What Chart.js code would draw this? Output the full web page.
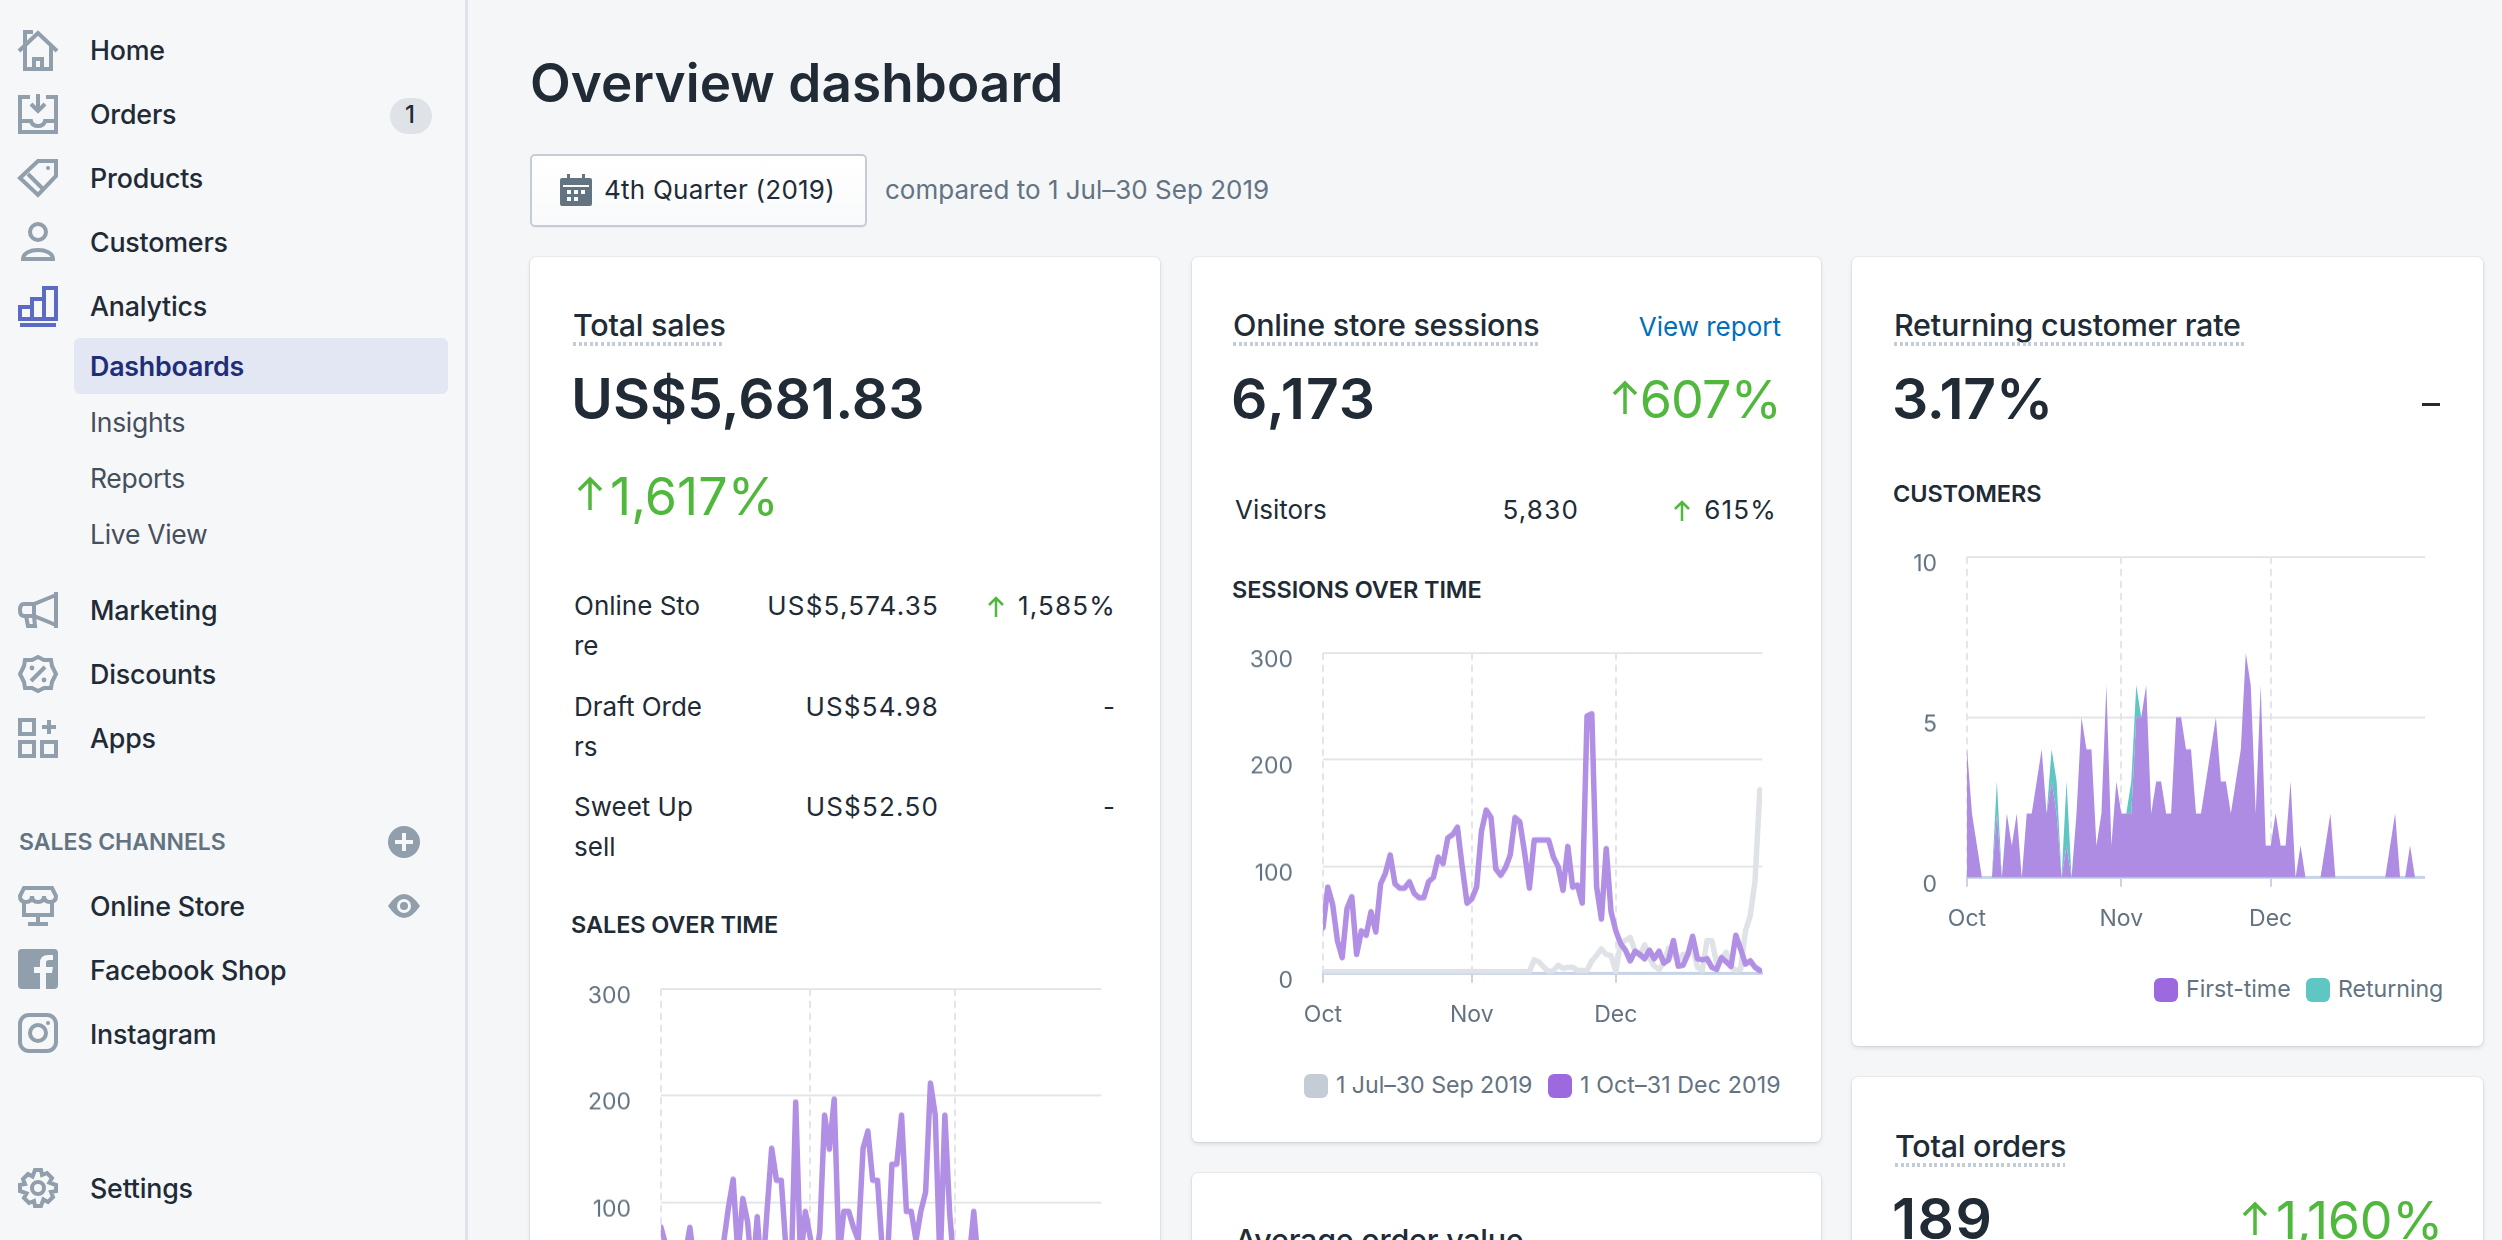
<!DOCTYPE html>
<html>
<head>
<meta charset="utf-8">
<title>Overview dashboard</title>
<script src="https://cdn.jsdelivr.net/npm/chart.js@4"></script>
<style>
html, body { margin: 0; padding: 0; width: 2502px; height: 1240px; overflow: hidden; background: #f4f6f8; }
body { position: relative; font-family: Inter, "Noto Sans", sans-serif; color: #212b36; }
.t { position: absolute; white-space: nowrap; line-height: 1; transform: translateY(-50%); }
.nav { left: 90px; font-size: 26.8px; font-weight: 500; letter-spacing: -0.2px; }
.sub { left: 90px; font-size: 26.5px; color: #454f5b; letter-spacing: -0.3px; }
.card { position: absolute; background: #fff; border-radius: 6px; box-shadow: 0 0 0 1px rgba(63,63,68,.05), 0 2px 4px rgba(63,63,68,.15); }
.title { font-size: 30.5px; font-weight: 500; letter-spacing: -0.25px; }
.dots { position: absolute; height: 4px; background: repeating-linear-gradient(90deg, #c4cdd5 0 3px, transparent 3px 5.6px); }
.big { font-size: 57px; font-weight: 600; }
.up { font-size: 52px; color: #50b83c; }
.cell { font-size: 26px; }
.num { letter-spacing: 1.2px; }
.head { font-size: 23.5px; font-weight: 600; letter-spacing: -0.1px; }
.leg { font-size: 23.2px; color: #637381; letter-spacing: -0.05px; }
.sw { position: absolute; width: 24px; height: 24px; border-radius: 6px; }
svg { position: absolute; overflow: visible; }
svg.ic { left: 18px; width: 40px; height: 40px; fill: none; stroke: #919eab; stroke-width: 2; }
canvas { position: absolute; }
</style>
</head>
<body>

<!-- sidebar -->
<div style="position:absolute;left:0;top:0;width:465px;height:1240px;background:#f6f7f9;border-right:3px solid #dfe3e8"></div>
<div style="position:absolute;left:74px;top:338px;width:374px;height:56px;border-radius:6px;background:#e3e6f3"></div>
<div style="position:absolute;left:390px;top:98px;width:42px;height:36px;border-radius:18px;background:#dfe3e8"></div>

<svg class="ic" style="top:30px" viewBox="0 0 20 20"><path d="M0.5 10.5L10 1.5 19.5 10.5M3.5 8V19.5H16.5V8M8 19.5V14.5H12V19.5M3.5 7V1H7.5"/></svg>
<svg class="ic" style="top:94px" viewBox="0 0 20 20"><path d="M6 1.5H1V19H19V1.5H14M10 0V8M6.5 5L10 8.5 13.5 5M1 13.5H6.5Q7 16 10 16 13 16 13.5 13.5H19"/></svg>
<svg class="ic" style="top:158px" viewBox="0 0 20 20"><path d="M1 10L10 1.5H19V9L10 18.5ZM5 8L12 15"/><circle cx="15" cy="5" r="1" fill="#919eab" stroke="none"/></svg>
<svg class="ic" style="top:222px" viewBox="0 0 20 20"><circle cx="10" cy="5" r="4"/><path d="M2.5 18.5C2.5 12.5 17.5 12.5 17.5 18.5Z"/></svg>
<svg class="ic" style="top:286px;stroke:#5c6ac4" viewBox="0 0 20 20"><path d="M1 19.5H19M1 16.5V10.5H7V16.5ZM7 16.5V6.5H13V16.5ZM13 16.5V1H19V16.5ZM1 16.5H19"/></svg>
<svg class="ic" style="top:590px" viewBox="0 0 20 20"><path d="M19 1V19M19 2.5L8 7H3Q1 7 1 10 1 13 3 13H8L19 17.5M8 7V13M4 13L5 18H8.5L8 13"/></svg>
<svg class="ic" style="top:654px" viewBox="0 0 20 20"><path d="M10 1.5L13 3H16.5L17 6 19 10 17 14 16.5 17H13L10 18.5 7 17H3.5L3 14 1 10 3 6 3.5 3H7ZM6.5 13.5L13.5 6.5"/><circle cx="7" cy="7" r="1.2" fill="#919eab" stroke="none"/><circle cx="13" cy="13" r="1.2" fill="#919eab" stroke="none"/></svg>
<svg class="ic" style="top:718px" viewBox="0 0 20 20"><path d="M1 1H8V8H1ZM1 12H8V19H1ZM12 12H19V19H12ZM15.5 1V8M12 4.5H19"/></svg>
<svg class="ic" style="top:886px" viewBox="0 0 20 20"><path d="M3 1H17L19 5Q19 8 16 8 13 8 13 5 13 8 10 8 7 8 7 5 7 8 4 8 1 8 1 5ZM3 8V14.5H17V8M10 14.5V18M5 19H15"/></svg>
<svg class="ic" style="top:949px;stroke:none;fill:#919eab" viewBox="0 0 20 20"><path d="M2 0H18Q20 0 20 2V18Q20 20 18 20H14V12H17L17.5 9H14V7Q14 5.5 15.5 5.5H17.5V3H15Q11 3 11 7V9H8V12H11V20H2Q0 20 0 18V2Q0 0 2 0Z"/></svg>
<svg class="ic" style="top:1013px" viewBox="0 0 20 20"><rect x="1" y="1" width="18" height="18" rx="4.5"/><circle cx="10" cy="10" r="4"/><circle cx="15" cy="5" r="1" fill="#919eab" stroke="none"/></svg>
<svg class="ic" style="top:1168px" viewBox="0 0 20 20"><path d="M8.5 1H11.5L12 3.5 14.5 2.5 17 5 15.7 7.3 19 8.5V11.5L16.5 12 17.5 14.5 15 17 12.7 15.7 11.5 19H8.5L8 16.5 5.5 17.5 3 15 4.3 12.7 1 11.5V8.5L3.5 8 2.5 5.5 5 3 7.3 4.3Z"/><circle cx="10" cy="10" r="3"/></svg>
<svg style="left:388px;top:826px;width:32px;height:32px" viewBox="0 0 32 32"><circle cx="16" cy="16" r="16" fill="#919eab"/><path d="M16 7V25M7 16H25" stroke="#f6f7f9" stroke-width="4"/></svg>
<svg style="left:388px;top:894px;width:32px;height:24px" viewBox="0 0 32 24"><path d="M0 12Q16 -12 32 12 16 36 0 12Z" fill="#919eab"/><circle cx="16" cy="12" r="7" fill="#f6f7f9"/><circle cx="16" cy="12" r="4" fill="#919eab"/></svg>

<div class="t nav" style="top:50px">Home</div>
<div class="t nav" style="top:114px">Orders</div>
<div class="t" style="left:405px;top:115px;font-size:24px;font-weight:500">1</div>
<div class="t nav" style="top:178px">Products</div>
<div class="t nav" style="top:242px">Customers</div>
<div class="t nav" style="top:306px">Analytics</div>
<div class="t nav" style="top:366px;color:#202e78;font-weight:600">Dashboards</div>
<div class="t sub" style="top:422px">Insights</div>
<div class="t sub" style="top:478px">Reports</div>
<div class="t sub" style="top:534px">Live View</div>
<div class="t nav" style="top:610px">Marketing</div>
<div class="t nav" style="top:674px">Discounts</div>
<div class="t nav" style="top:738px">Apps</div>
<div class="t" style="left:19px;top:842px;font-size:23px;font-weight:600;color:#637381">SALES CHANNELS</div>
<div class="t nav" style="top:906px">Online Store</div>
<div class="t nav" style="top:970px">Facebook Shop</div>
<div class="t nav" style="top:1034px">Instagram</div>
<div class="t nav" style="top:1188px">Settings</div>

<!-- header -->
<div class="t" style="left:530px;top:83px;font-size:53px;font-weight:600;letter-spacing:0.1px">Overview dashboard</div>
<div style="position:absolute;left:530px;top:154px;width:333px;height:69px;border:2px solid #c4cdd5;border-radius:5px;background:linear-gradient(#fff,#f9fafb);box-shadow:0 1px 0 rgba(22,29,37,.05)"></div>
<svg style="left:560px;top:174px;width:32px;height:32px" viewBox="0 0 32 32"><path d="M2 4H7V0H10V4H22V0H25V4H30Q32 4 32 6V30Q32 32 30 32H2Q0 32 0 30V6Q0 4 2 4ZM3 11V13H29V11ZM7 16V20H11V16ZM14 16V20H18V16ZM21 16V20H25V16ZM7 23V27H11V23ZM14 23V27H18V23Z" fill="#637381" fill-rule="evenodd"/></svg>
<div class="t" style="left:604px;top:190px;font-size:26px;letter-spacing:0.25px">4th Quarter (2019)</div>
<div class="t" style="left:885px;top:190px;font-size:26px;color:#637381">compared to 1 Jul–30 Sep 2019</div>

<!-- cards -->
<div class="card" style="left:530px;top:257px;width:630px;height:1100px"></div>
<div class="card" style="left:1192px;top:257px;width:629px;height:885px"></div>
<div class="card" style="left:1192px;top:1173px;width:629px;height:300px"></div>
<div class="card" style="left:1852px;top:257px;width:631px;height:789px"></div>
<div class="card" style="left:1852px;top:1077px;width:631px;height:300px"></div>

<!-- total sales -->
<div class="t title" style="left:573px;top:325px">Total sales</div>
<div class="dots" style="left:573px;top:342px;width:151px"></div>
<div class="t big" style="left:571px;top:398px">US$5,681.83</div>
<svg style="left:577px;top:477px;width:26px;height:33px" viewBox="0 0 26 33"><path d="M13 33V2M2 13L13 2 24 13" fill="none" stroke="#50b83c" stroke-width="3.5"/></svg>
<div class="t up" style="left:610px;top:497px">1,617%</div>
<div class="t cell" style="left:574px;top:606px">Online Sto</div>
<div class="t cell" style="left:574px;top:646px">re</div>
<div class="t cell num" style="right:1563px;top:606px">US$5,574.35</div>
<svg style="left:988px;top:596px;width:16px;height:21px" viewBox="0 0 16 21"><path d="M8 21V2M1 9L8 2 15 9" fill="none" stroke="#50b83c" stroke-width="2.5"/></svg>
<div class="t cell num" style="right:1386px;top:606px">1,585%</div>
<div class="t cell" style="left:574px;top:707px">Draft Orde</div>
<div class="t cell" style="left:574px;top:747px">rs</div>
<div class="t cell num" style="right:1563px;top:707px">US$54.98</div>
<div class="t cell" style="right:1387px;top:707px">-</div>
<div class="t cell" style="left:574px;top:807px">Sweet Up</div>
<div class="t cell" style="left:574px;top:847px">sell</div>
<div class="t cell num" style="right:1563px;top:807px">US$52.50</div>
<div class="t cell" style="right:1387px;top:807px">-</div>
<div class="t head" style="left:571px;top:925px">SALES OVER TIME</div>
<canvas id="salesChart" width="600" height="460"></canvas>

<!-- online store sessions -->
<div class="t title" style="left:1233px;top:325px">Online store sessions</div>
<div class="dots" style="left:1233px;top:342px;width:305px"></div>
<div class="t" style="right:721px;top:327px;font-size:26px;color:#006fbb">View report</div>
<div class="t big" style="left:1231px;top:398px;letter-spacing:1px">6,173</div>
<svg style="left:1612px;top:381px;width:26px;height:33px" viewBox="0 0 26 33"><path d="M13 33V2M2 13L13 2 24 13" fill="none" stroke="#50b83c" stroke-width="3.5"/></svg>
<div class="t up" style="right:721px;top:400px;letter-spacing:-0.8px">607%</div>
<div class="t cell" style="left:1235px;top:510px">Visitors</div>
<div class="t cell num" style="right:923px;top:510px">5,830</div>
<svg style="left:1674px;top:500px;width:16px;height:21px" viewBox="0 0 16 21"><path d="M8 21V2M1 9L8 2 15 9" fill="none" stroke="#50b83c" stroke-width="2.5"/></svg>
<div class="t cell num" style="right:725px;top:510px">615%</div>
<div class="t head" style="left:1232px;top:590px">SESSIONS OVER TIME</div>
<canvas id="sessionsChart" width="600" height="460"></canvas>
<div class="sw" style="left:1304px;top:1074px;background:#c4cdd5"></div>
<div class="t leg" style="left:1336px;top:1086px">1 Jul–30 Sep 2019</div>
<div class="sw" style="left:1548px;top:1074px;background:#9c6ade"></div>
<div class="t leg" style="left:1580px;top:1086px;letter-spacing:0.1px">1 Oct–31 Dec 2019</div>

<!-- returning customer rate -->
<div class="t title" style="left:1894px;top:325px">Returning customer rate</div>
<div class="dots" style="left:1894px;top:342px;width:350px"></div>
<div class="t big" style="left:1892px;top:398px;letter-spacing:-0.3px">3.17%</div>
<div style="position:absolute;left:2422px;top:403px;width:18px;height:3px;background:#212b36"></div>
<div class="t head" style="left:1893px;top:494px">CUSTOMERS</div>
<canvas id="customersChart" width="600" height="460"></canvas>
<div class="sw" style="left:2154px;top:978px;background:#9c6ade"></div>
<div class="t leg" style="left:2186px;top:990px">First-time</div>
<div class="sw" style="left:2306px;top:978px;background:#5ec6c3"></div>
<div class="t leg" style="left:2338px;top:990px">Returning</div>

<!-- bottom cards, cut off by the window -->
<div class="t title" style="left:1235px;top:1240px">Average order value</div>
<div class="t title" style="left:1895px;top:1146px">Total orders</div>
<div class="dots" style="left:1895px;top:1163px;width:170px"></div>
<div class="t big" style="left:1892px;top:1218px;letter-spacing:1.5px">189</div>
<svg style="left:2242px;top:1202px;width:26px;height:33px" viewBox="0 0 26 33"><path d="M13 33V2M2 13L13 2 24 13" fill="none" stroke="#50b83c" stroke-width="3.5"/></svg>
<div class="t up" style="right:59px;top:1221px;letter-spacing:-0.3px">1,160%</div>

<script>
const monthNames = ['Oct', 'Nov', 'Dec'];
const monthTicks = [0, 31, 61];

const salesTicks = [0, 100, 200, 300];
const sessionTicks = [0, 100, 200, 300];
const customerTicks = [0, 5, 10];

// bottom of this one is below the fold, low values are a guess
const salesThisQuarter = [77, 60, 45, 30, 20, 50, 77, 40, 25, 45, 30, 20, 35, 62, 95, 122, 50, 104, 82, 30, 87, 25, 90, 151, 121, 121, 55, 25, 194, 45, 92, 68, 40, 73, 182, 150, 197, 50, 92, 92, 77, 65, 151, 167, 121, 121, 55, 40, 136, 136, 182, 92, 92, 65, 92, 110, 212, 182, 40, 182, 90, 35, 30, 25, 45, 92, 40, 20, 15, 25, 10, 15, 30, 45, 15, 10, 25, 40, 15, 10, 20, 10, 5, 15, 30, 45, 20, 10, 15, 10, 5, 5];

const sessionsLastQuarter = [2, 2, 2, 2, 2, 2, 2, 2, 2, 2, 2, 2, 2, 2, 2, 2, 2, 2, 2, 2, 2, 2, 2, 2, 2, 2, 2, 2, 2, 2, 2, 2, 2, 2, 2, 2, 2, 2, 2, 2, 2, 2, 2, 2, 13, 11, 6, 2, 3, 8, 5, 6, 6, 3, 3, 3, 12, 17, 23, 18, 17, 2, 29, 31, 34, 21, 17, 27, 15, 7, 4, 10, 24, 18, 12, 18, 18, 25, 6, 3, 31, 31, 10, 14, 20, 6, 3, 4, 40, 54, 87, 172];
const sessionsThisQuarter = [43, 81, 65, 31, 15, 61, 72, 18, 40, 36, 58, 39, 84, 94, 111, 84, 80, 80, 86, 75, 71, 71, 86, 90, 109, 103, 127, 130, 137, 100, 66, 70, 81, 133, 153, 146, 98, 92, 99, 111, 146, 142, 113, 80, 125, 125, 125, 125, 109, 100, 78, 119, 81, 83, 66, 241, 243, 81, 51, 117, 58, 40, 28, 22, 12, 21, 18, 14, 22, 14, 21, 10, 13, 31, 7, 8, 18, 35, 14, 13, 14, 6, 4, 15, 11, 7, 36, 23, 9, 12, 6, 3];

const firstTimeCustomers = [4, 2, 1, 0, 0, 0, 2, 0, 2, 1, 2, 0, 2, 2, 3, 4, 2, 3, 2, 0, 1, 0, 2, 5, 4, 4, 1, 2, 6, 1, 3, 2, 2, 2, 5, 5, 6, 2, 3, 3, 2, 2, 5, 5, 4, 4, 2, 2, 3, 4, 5, 3, 3, 2, 3, 4, 7, 6, 2, 6, 1, 1, 2, 1, 1, 3, 0, 1, 0, 0, 0, 0, 1, 2, 0, 0, 0, 0, 0, 0, 0, 0, 0, 0, 0, 1, 2, 0, 0, 1, 0, 0];
const returningCustomers = [0, 0, 0, 0, 0, 0, 1, 0, 0, 0, 0, 0, 0, 0, 0, 0, 0, 1, 1, 0, 2, 0, 0, 0, 0, 0, 0, 0, 0, 0, 0, 0, 0, 1, 1, 0, 0, 0, 0, 0, 0, 0, 0, 0, 0, 0, 0, 0, 0, 0, 0, 0, 0, 0, 0, 0, 0, 0, 0, 0, 0, 0, 0, 0, 0, 0, 0, 0, 0, 0, 0, 0, 0, 0, 0, 0, 0, 0, 0, 0, 0, 0, 0, 0, 0, 0, 0, 0, 0, 0, 0, 0];

const PURPLE_LINE = '#b08fe4';
const GREY_LINE = '#dfe3e8';
const PURPLE_AREA = '#af8ce3';
const TEAL_AREA = '#5ec6c3';
const GRID = '#e4e5e8';
const AXIS = '#c9d3e6';
const LABEL = '#637381';

// x is the day number, counted from 1 Oct
function byDay(values) {
    return values.map(function (v, i) { return { x: i, y: v }; });
}

function lineSet(label, data, color) {
    return { label: label, data: byDay(data), borderColor: color, backgroundColor: color, borderWidth: 5.5, pointRadius: 0, tension: 0, fill: false, borderJoinStyle: 'round', borderCapStyle: 'round' };
}

function areaSet(label, data, color, fill) {
    return { label: label, data: byDay(data), borderWidth: 0, borderColor: color, backgroundColor: color, pointRadius: 0, tension: 0, fill: fill };
}

function makeChart(id, datasets, yTicks, plot, xMax, stacked) {
    const canvas = document.getElementById(id);
    const chart = new Chart(canvas, {
        type: 'line',
        data: { datasets: datasets },
        options: {
            responsive: false,
            maintainAspectRatio: false,
            animation: false,
            plugins: { legend: { display: false }, tooltip: { enabled: false } },
            layout: { padding: { top: 20, right: 0, left: 0, bottom: 0 } },
            scales: {
                x: {
                    type: 'linear',
                    min: 0,
                    max: xMax,
                    afterBuildTicks: function (axis) {
                        axis.ticks = monthTicks.map(function (v) { return { value: v }; });
                    },
                    afterFit: function (axis) { axis.height = 62; },
                    grid: { color: GRID, lineWidth: 2, tickColor: AXIS, tickWidth: 2, tickLength: 9 },
                    border: { color: AXIS, width: 3, dash: [7, 5] },
                    ticks: {
                        autoSkip: false, maxRotation: 0, color: LABEL, padding: 18,
                        font: { family: 'Inter', size: 23 },
                        callback: function (value) { return monthNames[monthTicks.indexOf(value)]; }
                    }
                },
                y: {
                    stacked: stacked,
                    min: yTicks[0],
                    max: yTicks[yTicks.length - 1],
                    afterBuildTicks: function (axis) {
                        axis.ticks = yTicks.map(function (v) { return { value: v }; });
                    },
                    afterFit: function (axis) { axis.width = 80; },
                    grid: { lineWidth: 2, drawTicks: false, color: function (ctx) { return ctx.tick.value === 0 ? 'transparent' : GRID; } },
                    border: { display: false },
                    ticks: {
                        color: LABEL, padding: 30,
                        font: { family: 'Inter', size: 23, lineHeight: 0.6 },
                        // the labels sit a little under their grid lines
                        callback: function (value) { return ['', String(value)]; }
                    }
                }
            }
        }
    });

    // line the plot area up with the spot it has on the page
    const area = chart.chartArea;
    chart.resize(plot.right - plot.left + area.left + (canvas.width - area.right), plot.bottom - plot.top + area.top + (canvas.height - area.bottom));
    canvas.style.left = (plot.left - area.left) + 'px';
    canvas.style.top = (plot.top - area.top) + 'px';
    return chart;
}

makeChart('salesChart',
    [lineSet('1 Oct–31 Dec 2019', salesThisQuarter, PURPLE_LINE)],
    salesTicks, { left: 661, right: 1104, top: 989, bottom: 1309 }, 91.5, false);

makeChart('sessionsChart',
    [lineSet('1 Oct–31 Dec 2019', sessionsThisQuarter, PURPLE_LINE), lineSet('1 Jul–30 Sep 2019', sessionsLastQuarter, GREY_LINE)],
    sessionTicks, { left: 1323, right: 1765, top: 653, bottom: 973 }, 91.5, false);

makeChart('customersChart',
    [areaSet('First-time', firstTimeCustomers, PURPLE_AREA, 'origin'), areaSet('Returning', returningCustomers, TEAL_AREA, '-1')],
    customerTicks, { left: 1967, right: 2425, top: 557, bottom: 877 }, 92, true);
</script>
</body>
</html>
